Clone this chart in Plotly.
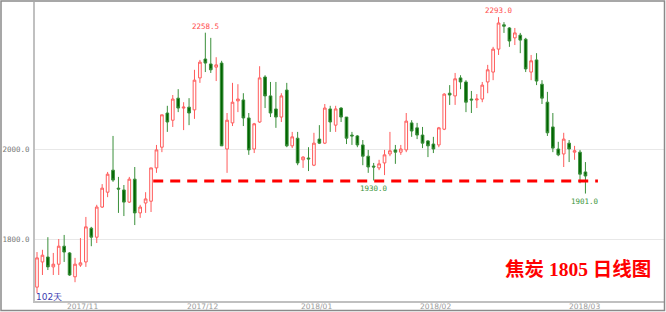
import plotly.graph_objects as go

# ---- data ----
opens = [1693,1749,1760,1738,1744,1784,1769,1716,1742,1749,1824,1804,1871,1904,1953,1913,1909,1882,1933,1858,
         1880,1884,1958,2004,2080,2064,2113,2091,2093,2087,2158,2200,2189,2182,2191,2000,2058,2107,2109,2069,
         2000,2060,2160,2118,2089,2071,2131,2007,2024,1976,1980,1964,2022,2013,2089,2053,2091,2071,2031,2029,
         2009,1984,1962,1958,1969,1989,1998,1993,1998,2058,2047,2031,2018,2011,2009,2044,2124,2118,2158,2149,
         2111,2109,2111,2149,2171,2222,2276,2269,2247,2253,2244,2171,2198,2144,2104,2049,2000,1989,2013,1993,
         1993,1949]
highs = [1771,1776,1804,1769,1800,1809,1771,1758,1802,1849,1827,1876,1922,1949,2029,1938,1920,1938,1960,1876,
         1904,1958,2009,2076,2096,2120,2133,2104,2113,2176,2198,2258.5,2247,2204,2196,2080,2147,2144,2124,2080,
         2058,2184,2164,2149,2149,2124,2147,2038,2038,1984,2004,2036,2053,2100,2096,2096,2093,2071,2038,2031,
         2020,1998,1969,1976,1998,2038,2009,2009,2080,2064,2058,2049,2020,2027,2049,2124,2142,2169,2164,2153,
         2129,2122,2149,2187,2227,2293,2282,2271,2269,2258,2247,2209,2213,2153,2127,2080,2016,2036,2020,2007,
         1998,1971]
lows = [1680,1720,1731,1720,1720,1749,1718,1704,1738,1738,1784,1791,1869,1893,1927,1858,1851,1880,1831,1847,
        1858,1860,1947,1993,2038,2049,2082,2042,2053,2067,2147,2171,2169,2151,2007,1947,2051,2082,2051,1987,
        1991,2058,2091,2071,2047,2060,2004,2002,1964,1958,1951,1962,2011,2011,2038,2038,2060,2011,2009,2004,
        1964,1947,1930,1953,1942,1984,1967,1987,1993,2027,2022,2002,1982,1991,2004,2042,2098,2098,2133,2082,
        2080,2091,2104,2124,2153,2209,2258,2227,2231,2213,2171,2153,2142,2100,2029,1993,1984,1960,1971,1976,
        1924,1901]
closes = [1758,1764,1738,1744,1784,1771,1720,1744,1747,1827,1804,1871,1913,1944,1931,1911,1882,1933,1858,1871,
          1889,1958,1998,2076,2060,2111,2091,2093,2080,2153,2193,2191,2176,2187,2007,2064,2104,2111,2069,1998,
          2056,2158,2118,2080,2071,2118,2007,2027,1969,1982,1978,2013,2013,2091,2060,2089,2071,2024,2029,2009,
          1984,1960,1960,1967,1987,1996,1993,2000,2062,2040,2031,2013,2007,2000,2047,2122,2120,2156,2149,2104,
          2109,2111,2142,2176,2222,2280,2273,2240,2258,2242,2178,2196,2151,2113,2036,2002,1987,2022,2000,1996,
          1944,1940]

tick_labels = ["2017/11", "2017/12", "2018/01", "2018/02", "2018/03"]
tick_positions = [8.4, 30.4, 51.4, 73.4, 100.9]
y_ticks = [1800, 2000]
support_level = 1929
peak_labels = ["2258.5", "2293.0"]
trough_labels = ["1930.0", "1901.0"]
day_count_label = "102天"
title_text = "焦炭 1805 日线图"

n = len(closes)
xs = list(range(n))

W, H = 666, 312
ML, MR, MT, MB = 35, 2, 2, 11
pw, ph = W - ML - MR, H - MT - MB


def py_to_paper(py):
    return (H - MB - py) / ph


def px_to_paper(px):
    return (px - ML) / pw


fig = go.Figure()
fig.add_trace(go.Candlestick(
    x=xs, open=opens, high=highs, low=lows, close=closes,
    increasing=dict(line=dict(color="#ff5b5b", width=1), fillcolor="#ffffff"),
    decreasing=dict(line=dict(color="#3a8f3a", width=1), fillcolor="#006400"),
    whiskerwidth=0, showlegend=False, hoverinfo="skip"))

# support line
start_i = 21.4
end_i = 103.3
fig.add_trace(go.Scatter(x=[start_i, end_i], y=[support_level, support_level], mode="lines",
                         line=dict(color="#ff0000", width=3, dash="10px,7px"),
                         showlegend=False, hoverinfo="skip"))

# peak / trough annotations
hi_idx = [max(range(0, 60), key=lambda i: highs[i]), max(range(60, n), key=lambda i: highs[i])]
lo_idx = [min(range(40, 80), key=lambda i: lows[i]), min(range(80, n), key=lambda i: lows[i])]
for i, t in zip(hi_idx, peak_labels):
    fig.add_annotation(x=i, y=highs[i], text=t, showarrow=False, xanchor="center", yanchor="bottom", yshift=0,
                       font=dict(family="DejaVu Sans Mono", size=7.5, color="#ff4d4d"))
for i, t in zip(lo_idx, trough_labels):
    fig.add_annotation(x=i, y=lows[i], text=t, showarrow=False, xanchor="center", yanchor="top", yshift=-1,
                       font=dict(family="DejaVu Sans Mono", size=7.5, color="#3c963c"))

# x tick labels as annotations (placed just below the axis)
for pos, lab in zip(tick_positions, tick_labels):
    fig.add_annotation(x=pos, xref="x", yref="paper", y=py_to_paper(306), text=lab, showarrow=False,
                       xanchor="center", yanchor="middle",
                       font=dict(family="DejaVu Sans", size=7.5, color="#9a9a9a"))

fig.add_annotation(xref="paper", yref="paper", x=px_to_paper(578), y=py_to_paper(269),
                   xanchor="center", yanchor="middle",
                   text="<b>" + title_text + "</b>", showarrow=False,
                   font=dict(family="Liberation Serif, Noto Sans CJK SC", size=19.5, color="#ff0000"))
fig.add_annotation(xref="paper", yref="paper", x=px_to_paper(34), y=py_to_paper(296.5),
                   xanchor="left", yanchor="middle",
                   text=day_count_label, showarrow=False,
                   font=dict(family="DejaVu Sans", size=9, color="#3b3bb0"))

# outer frame
fig.add_shape(type="rect", xref="paper", yref="paper",
              x0=px_to_paper(1), x1=px_to_paper(W - 1.5),
              y0=py_to_paper(H - 1.5), y1=py_to_paper(1),
              line=dict(color="#8a8a8a", width=1.5), fillcolor="rgba(0,0,0,0)")

fig.update_layout(
    width=W, height=H, margin=dict(l=ML, r=MR, t=MT, b=MB),
    paper_bgcolor="white", plot_bgcolor="white",
    xaxis=dict(range=[-0.37, 115.47], showticklabels=False,
               showgrid=False, zeroline=False, showline=True, linecolor="#c0c0c0", linewidth=2,
               ticks="", rangeslider=dict(visible=False), automargin=False),
    yaxis=dict(range=[1662.2, 2326.7], tickvals=y_ticks, ticktext=[f"{v:.1f}" for v in y_ticks],
               showgrid=True, gridcolor="#e8e8e8", gridwidth=1, zeroline=False,
               showline=True, linecolor="#c0c0c0", linewidth=2, ticks="", automargin=False,
               ticklabelstandoff=2,
               tickfont=dict(family="DejaVu Sans Mono", size=7.5, color="#777777")),
)

fig.write_html("out.html")
